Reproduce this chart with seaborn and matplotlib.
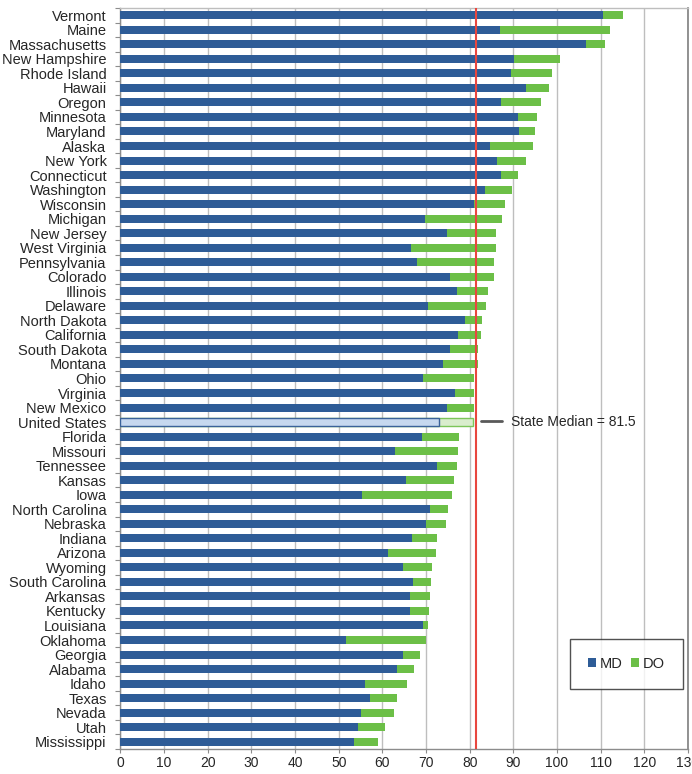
import matplotlib
matplotlib.use("Agg")
import matplotlib.pyplot as plt
from matplotlib.lines import Line2D
from matplotlib.patches import Patch
from matplotlib.ticker import FixedLocator
import seaborn as sns
import pandas as pd
import numpy as np

states = ["Vermont", "Maine", "Massachusetts", "New Hampshire", "Rhode Island", "Hawaii",
          "Oregon", "Minnesota", "Maryland", "Alaska", "New York", "Connecticut", "Washington",
          "Wisconsin", "Michigan", "New Jersey", "West Virginia", "Pennsylvania", "Colorado",
          "Illinois", "Delaware", "North Dakota", "California", "South Dakota", "Montana", "Ohio",
          "Virginia", "New Mexico", "United States", "Florida", "Missouri", "Tennessee", "Kansas",
          "Iowa", "North Carolina", "Nebraska", "Indiana", "Arizona", "Wyoming", "South Carolina",
          "Arkansas", "Kentucky", "Louisiana", "Oklahoma", "Georgia", "Alabama", "Idaho", "Texas",
          "Nevada", "Utah", "Mississippi"]

md = [110.5, 87.0, 106.7, 90.1, 89.4, 92.8, 87.1, 91.1, 91.3, 84.7, 86.3, 87.1, 83.5,
      81.0, 69.8, 74.7, 66.6, 68.0, 75.5, 77.2, 70.4, 79.0, 77.4, 75.4, 73.8, 69.3,
      76.7, 74.7, 72.9, 69.0, 62.9, 72.6, 65.3, 55.4, 71.0, 70.0, 66.8, 61.2, 64.7,
      66.9, 66.4, 66.3, 69.4, 51.7, 64.8, 63.4, 56.0, 57.1, 55.2, 54.4, 53.4]

total = [115.2, 112.2, 111.0, 100.7, 98.9, 98.2, 96.3, 95.3, 94.9, 94.6, 92.8, 91.1, 89.6,
         88.1, 87.3, 86.1, 86.0, 85.5, 85.5, 84.1, 83.7, 82.9, 82.6, 82.0, 81.9, 81.0,
         80.9, 80.9, 80.8, 77.5, 77.4, 77.2, 76.3, 76.0, 75.0, 74.5, 72.5, 72.3, 71.4,
         71.2, 71.0, 70.6, 70.4, 70.0, 68.6, 67.3, 65.7, 63.4, 62.7, 60.6, 58.9]

do = [round(t - m, 1) for t, m in zip(total, md)]
state_median = 81.5
x_ticks = list(range(0, 131, 10))

df = pd.DataFrame({"state": states, "MD": md, "DO": do})
df["total"] = df["MD"] + df["DO"]

sns.set_theme(style="white")
plt.rcParams["font.family"] = ["Liberation Sans", "DejaVu Sans"]

BLUE = "#2E5C97"
GREEN = "#6CBF47"
TXT = "#262626"
GRID = "#BEBEBE"

fig = plt.figure(figsize=(6.92, 7.74), dpi=100)
ax = fig.add_axes([0.1741, 0.0323, 0.9942 - 0.1741, 0.9897 - 0.0323])

sns.barplot(data=df, y="state", x="total", color=GREEN, saturation=1, width=0.55,
            orient="h", ax=ax, zorder=3)
sns.barplot(data=df, y="state", x="MD", color=BLUE, saturation=1, width=0.55,
            orient="h", ax=ax, zorder=3)

n = len(states)
us = states.index("United States")
patches = ax.patches
for p in patches:
    p.set_edgecolor("none")
    p.set_linewidth(0)
p_do = patches[us]
p_md = patches[n + us]
p_do.set_facecolor("#D9EDCD")
p_do.set_edgecolor("#7CC55A")
p_do.set_linewidth(1.0)
p_md.set_facecolor("#C6D8EF")
p_md.set_edgecolor("#3A6299")
p_md.set_linewidth(1.0)

ax.axvline(state_median, color="#E8473F", lw=1.5, zorder=4)

ax.set_xlim(0, 130)
ax.set_ylim(n - 0.5, -0.5)
ax.xaxis.set_major_locator(FixedLocator(x_ticks))
ax.set_xticklabels([str(v) for v in x_ticks])
ax.grid(axis="x", color=GRID, lw=1.0, zorder=0)
ax.grid(axis="y", visible=False)
ax.set_xlabel("")
ax.set_ylabel("")

ax.yaxis.set_minor_locator(FixedLocator(np.arange(-0.5, n, 1.0)))
ax.tick_params(axis="y", which="major", length=0, labelsize=10.5, labelcolor=TXT, pad=10)
ax.tick_params(axis="y", which="minor", left=True, length=3.5, color="#8C8C8C", width=0.8)
ax.tick_params(axis="x", which="major", bottom=True, length=3, color="#8C8C8C", width=0.8,
               labelsize=10, labelcolor=TXT, pad=2)

for s in ["left", "bottom"]:
    ax.spines[s].set_color("#8C8C8C")
    ax.spines[s].set_linewidth(1.0)
ax.spines["right"].set_color("#7F7F7F")
ax.spines["right"].set_linewidth(1.2)
ax.spines["top"].set_color(GRID)
ax.spines["top"].set_linewidth(1.0)

# legend for MD / DO
handles = [Patch(facecolor=BLUE, edgecolor="none"), Patch(facecolor=GREEN, edgecolor="none")]
leg = ax.legend(handles, ["MD", "DO"], loc="center", bbox_to_anchor=(0.8915, 0.115),
                ncol=2, frameon=True, fancybox=False, fontsize=10.5,
                handlelength=0.55, handleheight=0.55, handletextpad=0.25, columnspacing=0.6,
                borderpad=1.25, borderaxespad=0)
leg.get_frame().set_edgecolor("#262626")
leg.get_frame().set_linewidth(1.0)
for t in leg.get_texts():
    t.set_color(TXT)
ax.add_artist(leg)

# state median legend entry
leg2 = ax.legend([Line2D([], [], color="#595959", lw=2)], ["State Median = 81.5"],
                 loc="center left", bbox_to_anchor=(0.636, (n - 0.5 - us) / n),
                 frameon=False, fontsize=10, handlelength=1.5, handletextpad=0.6,
                 borderaxespad=0, borderpad=0)
for t in leg2.get_texts():
    t.set_color(TXT)

fig.savefig("out.png", dpi=100, facecolor="white")
